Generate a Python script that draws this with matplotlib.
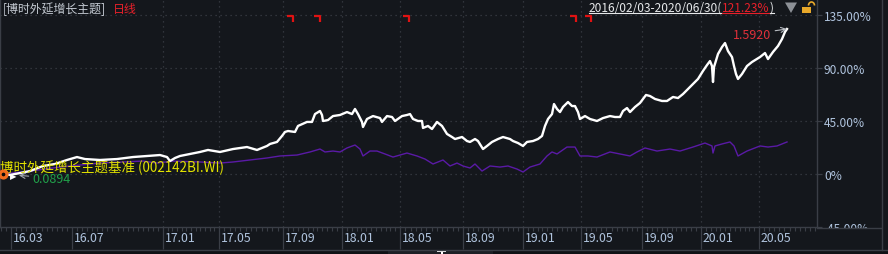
import numpy as np
import matplotlib
matplotlib.use("Agg")
import matplotlib.pyplot as plt
from matplotlib.path import Path
from matplotlib.patches import Rectangle, Polygon, Arc
import matplotlib.transforms as mtransforms

plt.rcParams['font.family'] = ['Noto Sans CJK SC', 'DejaVu Sans']

# ---------------- data (x = trading-day position on chart, y = cumulative return %) ----------------
fund_t = [3, 10, 20, 30, 43, 55, 67, 77, 85, 100,
          117, 133, 147, 160, 167, 170, 175, 180, 200, 208,
          220, 233, 247, 257, 267, 270, 277, 282, 285, 288,
          295, 298, 307, 312, 315, 320, 322, 323, 328, 333,
          340, 347, 352, 355, 358, 362, 363, 367, 373, 380,
          382, 387, 392, 395, 402, 407, 410, 413, 418, 422,
          423, 428, 432, 437, 442, 447, 452, 455, 462, 467,
          470, 475, 478, 483, 487, 492, 498, 503, 510, 513,
          518, 523, 527, 533, 538, 542, 545, 548, 552, 554,
          557, 560, 563, 568, 572, 575, 578, 580, 585, 590,
          597, 603, 610, 615, 620, 623, 627, 630, 635, 640,
          646, 650, 655, 662, 667, 673, 678, 683, 688, 693,
          698, 703, 707, 710, 712, 713, 714, 718, 722, 725,
          728, 732, 734, 736, 738, 742, 747, 752, 760, 765,
          768, 773, 778, 782, 785, 787]
fund_pct = [0, -0.8, 0.8, 2.5, 6.8, 8.5, 11.9, 14.4, 12.7, 11.9,
            12.7, 14.4, 15.3, 16.1, 14.4, 11.0, 13.6, 15.3, 18.7, 20.4,
            18.7, 21.2, 22.9, 20.4, 23.8, 25.5, 27.2, 32.3, 35.7, 36.5,
            35.7, 40.8, 44.2, 44.2, 50.9, 53.5, 50.1, 45.0, 45.8, 49.2,
            50.1, 52.6, 50.9, 55.2, 50.9, 44.2, 39.9, 46.7, 49.2, 47.5,
            44.2, 49.2, 48.4, 45.0, 49.2, 50.1, 50.9, 46.7, 45.0, 45.0,
            39.1, 40.8, 38.2, 44.2, 40.8, 34.0, 31.4, 29.7, 31.4, 28.0,
            27.2, 29.7, 28.0, 21.2, 23.8, 27.2, 29.7, 31.4, 29.7, 28.0,
            26.3, 23.8, 27.2, 28.0, 29.7, 32.3, 40.8, 46.7, 50.9, 59.4,
            55.2, 52.6, 56.9, 61.1, 57.7, 57.7, 52.6, 46.7, 49.2, 46.7,
            45.0, 47.5, 49.2, 48.4, 48.4, 53.5, 56.0, 52.6, 56.9, 60.3,
            67.1, 66.2, 63.7, 62.0, 62.0, 65.4, 64.5, 67.9, 72.2, 76.4,
            80.7, 87.5, 92.5, 95.9, 91.7, 78.1, 90.8, 101.9, 107.8, 111.2,
            104.4, 99.3, 91.7, 84.9, 80.7, 84.9, 91.7, 95.1, 99.3, 102.7,
            97.6, 103.6, 108.7, 114.6, 120.6, 123.1]

bench_t = [3, 30, 60, 100, 143, 157, 173, 200, 220, 233,
           250, 267, 280, 297, 310, 320, 325, 333, 340, 347,
           355, 360, 363, 370, 377, 385, 393, 407, 417, 425,
           433, 443, 450, 457, 463, 470, 475, 482, 490, 500,
           508, 517, 523, 530, 540, 547, 552, 557, 567, 575,
           580, 588, 597, 610, 620, 630, 637, 645, 657, 670,
           680, 693, 705, 712, 713, 715, 722, 730, 734, 738,
           747, 760, 768, 777, 787]
bench_pct = [0, 2.5, 5.9, 9.3, 11.0, 9.3, 11.0, 10.2, 9.3, 10.2,
             11.9, 13.6, 15.3, 16.1, 18.7, 21.2, 18.7, 19.5, 18.7, 22.1,
             24.6, 21.2, 15.3, 19.5, 19.5, 17.0, 14.4, 17.8, 15.3, 12.7,
             8.5, 11.9, 6.8, 9.3, 6.8, 5.1, 8.5, 2.5, 6.8, 5.9,
             6.8, 4.2, 1.7, 5.9, 8.5, 15.3, 18.7, 17.0, 22.9, 22.9,
             15.3, 15.3, 14.4, 18.7, 17.0, 15.3, 18.7, 22.1, 19.5, 21.2,
             19.5, 22.9, 26.3, 23.8, 17.8, 23.8, 25.5, 27.2, 23.8, 15.3,
             19.5, 23.8, 22.9, 23.8, 27.2]

xtick_pos = [11, 72, 163, 219, 283, 342, 400, 463, 523, 581, 642, 701, 759]
xtick_labels = ['16.03', '16.07', '17.01', '17.05', '17.09', '18.01', '18.05',
                '18.09', '19.01', '19.05', '19.09', '20.01', '20.05']
vgrid_pos = xtick_pos[2:]
ytick_vals = [135, 90, 45, 0, -45]
ytick_labels = ['135.00%', '90.00%', '45.00%', '0%', '-45.00%']
signal_t = [290, 317, 406, 573, 588]

title_name = '[博时外延增长主题]'
title_period = '日线'
range_text = '2016/02/03-2020/06/30('
range_ret = '121.23%'
range_close = ')'
bench_name = '博时外延增长主题基准 (002142BI.WI)'
start_label = '0.0894'
end_label = '1.5920'

# ---------------- style ----------------
BG = '#14171c'
GRID = '#3a3e46'
LABEL = '#b0c4de'
W, H = 888, 255
PLOT_R, PLOT_B = 817, 228

fig = plt.figure(figsize=(W / 100, H / 100), dpi=100, facecolor=BG)
ax = fig.add_axes([0, 1 - PLOT_B / H, PLOT_R / W, PLOT_B / H])
ax.set_facecolor(BG)
ax.set_xlim(0, PLOT_R)
ax.set_ylim(-45, 175 * 45 / 53)

for s in ['left', 'right', 'bottom']:
    ax.spines[s].set_color(GRID)
    ax.spines[s].set_linewidth(1)
ax.spines['top'].set_visible(False)

# gridlines
for v in ytick_vals[:-1]:
    ax.axhline(v, color=GRID, lw=0.9, ls=(0, (1, 3)), zorder=1)
for v in vgrid_pos:
    ax.axvline(v, color=GRID, lw=0.9, ls=(0, (1, 3)), zorder=1)

# series
ax.plot(bench_t, bench_pct, color='#5a1aa6', lw=1.0, zorder=3)
ax.plot(fund_t, fund_pct, color='white', lw=1.7, zorder=4)

# y axis on right
ax.yaxis.tick_right()
ax.set_yticks(ytick_vals)
ax.set_yticklabels(ytick_labels)
ax.tick_params(axis='y', direction='out', length=3.8, width=0.9, color=GRID,
               pad=1.2, labelsize=8.6, labelcolor=LABEL)

# x axis ticks
ax.set_xticks(xtick_pos)
ax.set_xticklabels([])
ax.tick_params(axis='x', which='major', direction='out', length=16, width=0.9, color=GRID)
months = [int(l[:2]) * 12 + int(l[3:]) for l in xtick_labels]
minor = []
for i in range(len(xtick_pos) - 1):
    n = (months[i + 1] - months[i]) * 3
    minor.extend(np.linspace(xtick_pos[i], xtick_pos[i + 1], n + 1)[1:-1])
step0 = (xtick_pos[1] - xtick_pos[0]) / ((months[1] - months[0]) * 3)
minor.extend(np.arange(xtick_pos[0] - step0, 0, -step0))
minor.extend(np.arange(xtick_pos[-1] + step0, PLOT_R, step0))
ax.set_xticks(minor, minor=True)
ax.tick_params(axis='x', which='minor', direction='out', length=3, width=0.8, color=GRID)

lab_tr = ax.get_xaxis_transform() + mtransforms.ScaledTranslation(2 / 100, 0, fig.dpi_scale_trans)
for t, lbl in zip(xtick_pos, xtick_labels):
    ax.text(t, -0.046, lbl, transform=lab_tr, ha='left', va='center',
            fontsize=8.8, color=LABEL, clip_on=False)

# signal markers at top
corner = Path([(-1, 1), (1, 1), (1, -1.1)], [Path.MOVETO, Path.LINETO, Path.LINETO])
ax.plot(signal_t, [0.912] * len(signal_t), ls='none', marker=corner, ms=5,
        mec='#e01212', mfc='none', mew=1.6, transform=ax.get_xaxis_transform(), zorder=5)

# benchmark legend text
ax.text(0.0, (PLOT_B - 168) / PLOT_B, bench_name, transform=ax.transAxes,
        color='#e2e200', fontsize=9.7, va='center', ha='left', zorder=6)

# start annotations
x0, y0 = fund_t[0], fund_pct[0]
ax.plot([x0], [y0], 'o', ms=5, mfc='#0a0a0a', mec='#f26b1d', mew=2.3, clip_on=False, zorder=7)
ax.annotate('▶', xy=(x0, y0), xytext=(7, -0.8), textcoords='offset points',
            fontsize=6, color='white', family='DejaVu Sans', ha='center', va='center', zorder=7)
ax.annotate(start_label, xy=(x0, y0), xytext=(21.5, -3), textcoords='offset points',
            ha='left', va='center', fontsize=9, color='#21a04a', zorder=5,
            arrowprops=dict(arrowstyle='->', color='#a0a4aa', lw=0.8, shrinkA=1, shrinkB=11.5))

# end annotation
ax.annotate(end_label, xy=(fund_t[-1], fund_pct[-1]), xytext=(-11.5, -3.6), textcoords='offset points',
            ha='right', va='center', fontsize=9, color='#e0303a', zorder=6,
            arrowprops=dict(arrowstyle='->', color='#b8bcc2', lw=0.8, shrinkA=1, shrinkB=0))

# ---------------- overlay decorations (pixel coords) ----------------
ov = fig.add_axes([0, 0, 1, 1], zorder=5)
ov.set_xlim(0, W)
ov.set_ylim(H, 0)
ov.axis('off')
ov.patch.set_alpha(0)

ov.add_patch(Rectangle((818, 228.6), 62.5, 21.5, color=BG, lw=0))
ov.plot([817, 881], [228.5, 228.5], color=GRID, lw=1)
ov.plot([0, W], [250.5, 250.5], color=GRID, lw=1)
ov.add_patch(Rectangle((0, 251), W, 4, color='#0f1115', lw=0))
ov.add_patch(Rectangle((388, 251), 105, 4, color='#1c1f25', lw=0))
ov.add_patch(Rectangle((437, 251.5), 9, 1.5, color='white', lw=0))
ov.add_patch(Rectangle((440.5, 251.5), 2, 3.5, color='white', lw=0))
ov.plot([881.5, 881.5], [0, 250.5], color=GRID, lw=1)

# title
ov.text(3, 9.5, title_name, color='#c4cad2', fontsize=8.6, va='center', ha='left')
ov.text(113, 9.5, title_period, color='#e8202a', fontsize=8.6, va='center', ha='left')

t1 = ov.text(589, 8.5, range_text, color='#e6e8ea', fontsize=8.6, va='center', ha='left')
t2 = ov.annotate(range_ret, xy=(1, 0), xycoords=t1, va='bottom', ha='left',
                 color='#e8202a', fontsize=8.6)
t3 = ov.annotate(range_close, xy=(1, 0), xycoords=t2, va='bottom', ha='left',
                 color='#e6e8ea', fontsize=8.6)

# triangle and lock
ov.add_patch(Polygon([(785, 3.5), (797, 3.5), (791, 14)], closed=True, color='#8c9096', lw=0))
ov.add_patch(Rectangle((802, 7.5), 9, 6.5, color='#e8a82a', lw=0))
ov.add_patch(Arc((811.5, 6.5), 6, 7, theta1=180, theta2=360, color='#e8a82a', lw=1.2))

fig.canvas.draw()
r = fig.canvas.get_renderer()
for txt, col in [(t1, '#e6e8ea'), (t2, '#e8202a'), (t3, '#e6e8ea')]:
    bb = txt.get_window_extent(r)
    ov.plot([bb.x0, bb.x1], [14.2, 14.2], color=col, lw=0.8)

fig.savefig('out.png', dpi=100, facecolor=BG)
